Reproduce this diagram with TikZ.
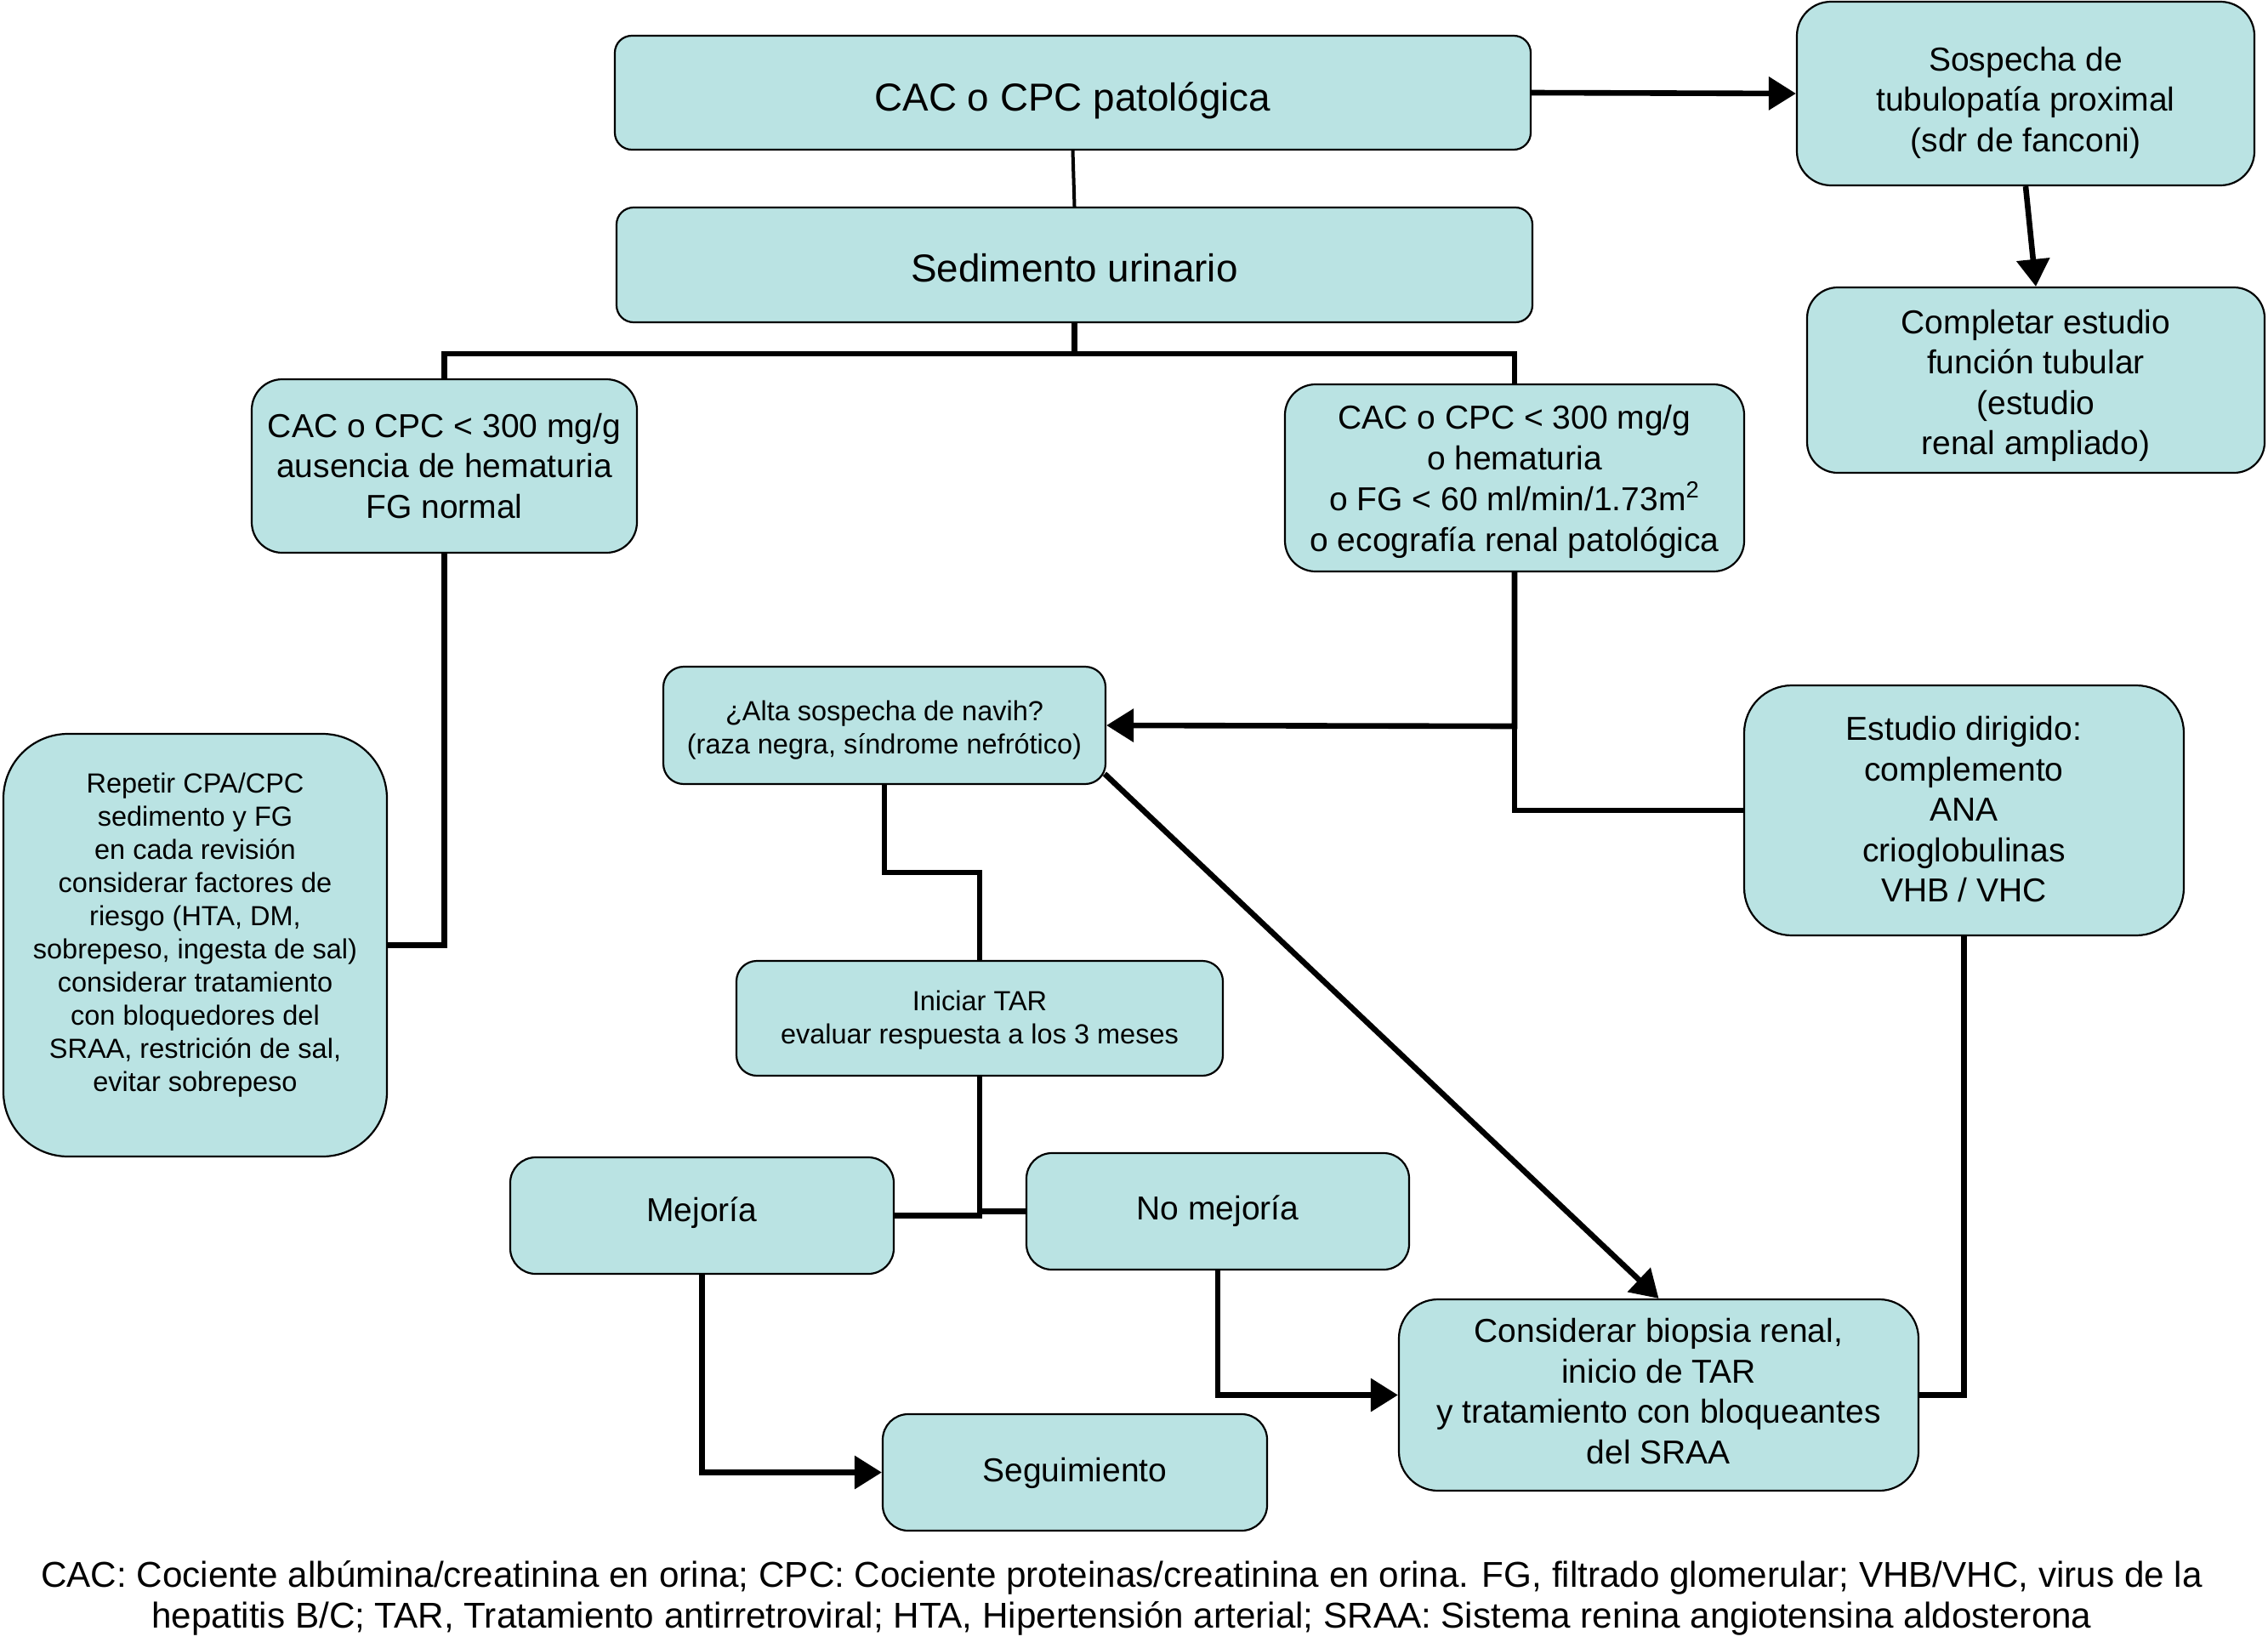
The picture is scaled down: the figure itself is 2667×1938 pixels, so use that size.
\documentclass[tikz,border=0pt]{standalone}
\usepackage{fontspec}
\setmainfont{Liberation Sans}
\usetikzlibrary{arrows.meta}
\definecolor{boxfill}{RGB}{186,227,227}
\newcommand{\bigtxt}{\fontsize{22.9}{27.5}\selectfont}
\newcommand{\normtxt}{\fontsize{19.5}{23.75}\selectfont}
\newcommand{\smalltxt}{\fontsize{16.25}{19.5}\selectfont}
\newcommand{\captxt}{\fontsize{21.1}{23.8}\selectfont}
% centred block of lines, optionally lowered by #1
\newcommand{\bt}[2][0pt]{\raisebox{-#1}[\height][\depth]{\begin{tabular}{@{}c@{}}#2\end{tabular}}}
\tikzset{
  box/.style={draw=black, line width=1.1pt, fill=boxfill, rectangle, inner sep=0pt, font=\normtxt},
  conn/.style={line width=3.3pt},
  thinconn/.style={line width=2pt},
  arr/.style={-{Triangle[length=16pt,width=19pt]}},
}
\begin{document}
\begin{tikzpicture}[x=0.5pt,y=-0.5pt]
\useasboundingbox (0,0) rectangle (2667,1938);
% nodes
\node[box, font=\bigtxt, rounded corners=10pt, minimum width=538.5pt, minimum height=67pt] (A) at (1261.5,109) {\bt[5pt]{CAC o CPC patológica}};
\node[box, font=\bigtxt, rounded corners=10pt, minimum width=538.5pt, minimum height=67.5pt] (B) at (1263.5,311.5) {\bt[4.25pt]{Sedimento urinario}};
\node[box, rounded corners=20pt, minimum width=269pt, minimum height=108pt] (C) at (2382,110) {\bt[5.5pt]{Sospecha de\\tubulopatía proximal\\(sdr de fanconi)}};
\node[box, rounded corners=18pt, minimum width=269pt, minimum height=109pt] (D) at (2394,447) {\bt[3.5pt]{Completar estudio\\función tubular\\(estudio\\renal ampliado)}};
\node[box, rounded corners=18pt, minimum width=226.5pt, minimum height=102pt] (E) at (522.5,548) {\bt[2pt]{CAC o CPC < 300 mg/g\\ausencia de hematuria\\FG normal}};
\node[box, rounded corners=18pt, minimum width=270pt, minimum height=110pt] (F) at (1781,562) {\bt[2.5pt]{CAC o CPC < 300 mg/g\\o hematuria\\o FG < 60 ml/min/1.73m\textsuperscript{2}\\o ecografía renal patológica}};
\node[box, font=\smalltxt, rounded corners=38pt, minimum width=225.5pt, minimum height=248.5pt] (G) at (229.5,1111.5) {\bt[-5.5pt]{Repetir CPA/CPC\\sedimento y FG\\en cada revisión\\considerar factores de\\riesgo (HTA, DM,\\sobrepeso, ingesta de sal)\\considerar tratamiento\\con bloquedores del\\SRAA, restrición de sal,\\evitar sobrepeso}};
\node[box, font=\smalltxt, rounded corners=12pt, minimum width=260pt, minimum height=69pt] (H) at (1040,853) {\bt[3pt]{¿Alta sospecha de navih?\\(raza negra, síndrome nefrótico)}};
\node[box, rounded corners=28pt, minimum width=258.5pt, minimum height=147pt] (I) at (2309.5,953) {\bt[1.5pt]{Estudio dirigido:\\complemento\\ANA\\crioglobulinas\\VHB / VHC}};
\node[box, font=\smalltxt, rounded corners=12pt, minimum width=286pt, minimum height=67.5pt] (J) at (1152,1197.5) {\bt[1.5pt]{Iniciar TAR\\evaluar respuesta a los 3 meses}};
\node[box, rounded corners=23pt, minimum width=305.5pt, minimum height=112.5pt] (K) at (1950.5,1640.5) {\bt{Considerar biopsia renal,\\inicio de TAR\\y tratamiento con bloqueantes\\del SRAA}};
\node[box, rounded corners=15pt, minimum width=225.5pt, minimum height=68.5pt] (L) at (825.5,1429.5) {\bt[-1.5pt]{Mejoría}};
\node[box, rounded corners=15pt, minimum width=225pt, minimum height=68.5pt] (M) at (1432,1424.5) {\bt{No mejoría}};
\node[box, rounded corners=15pt, minimum width=226pt, minimum height=68.5pt] (N) at (1264,1731.5) {\bt[0.5pt]{Seguimiento}};
% caption
\node[font=\captxt, align=center, inner sep=0pt] (cap) at (1319,1879.5) {CAC: Cociente albúmina/creatinina en orina; CPC: Cociente proteinas/creatinina en orina. FG, filtrado glomerular; VHB/VHC, virus de la\\hepatitis B/C; TAR, Tratamiento antirretroviral; HTA, Hipertensión arterial; SRAA: Sistema renina angiotensina aldosterona};
% coordinates
\coordinate (bj) at (1263.5,416);
\coordinate (fj) at (1781,854);
\coordinate (hj) at (1040,1026);
\coordinate (hse) at (1299,910);
% connectors
\draw[thinconn] (A.south) -- (B.north);
\draw[conn, arr] (A.east) -- (C.west);
\draw[conn, arr] (C.south) -- (D.north);
\draw[conn] (B.south) -- (bj);
\draw[conn] (E.north) |- (bj) -| (F.north);
\draw[conn] (E.south) |- (G.east);
\draw[conn, arr] (F.south) -- (fj) -- (H.east);
\draw[conn] (fj) |- (I.west);
\draw[conn] (I.south) |- (K.east);
\draw[conn, arr] (hse) -- (K.north);
\draw[conn] (H.south) -- (hj) -| (J.north);
\draw[conn] (J.south) |- (L.east);
\draw[conn] (J.south) |- (M.west);
\draw[conn, arr] (L.south) |- (N.west);
\draw[conn, arr] (M.south) |- (K.west);
\end{tikzpicture}
\end{document}
